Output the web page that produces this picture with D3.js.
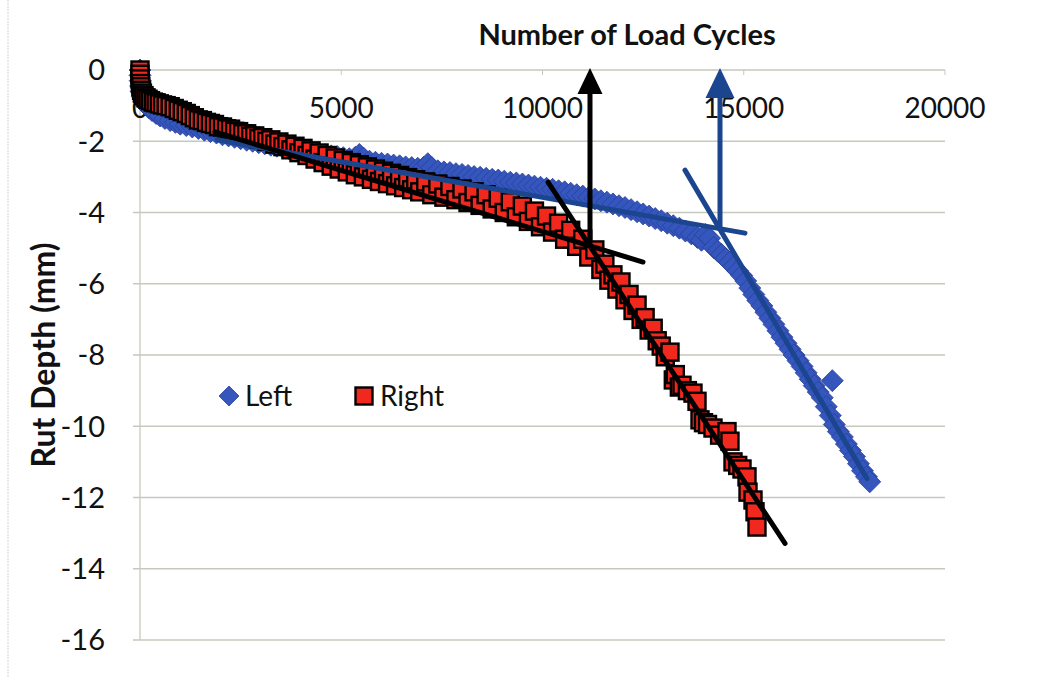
<!DOCTYPE html>
<html>
<head>
<meta charset="utf-8">
<script src="https://cdn.jsdelivr.net/npm/d3@7/dist/d3.min.js"></script>
<style>
    body { margin: 0; background: #fff; }
    #chart { width: 1050px; height: 677px; }
    text { font-family: Lato, "Open Sans", sans-serif; fill: #111; }
</style>
</head>
<body>
<div id="chart"></div>
<script>
// tick values
var xTicks = [0, 5000, 10000, 15000, 20000];
var yTicks = [0, -2, -4, -6, -8, -10, -12, -14, -16];

// Left wheel path: [load cycles, rut depth mm]
var leftData = [
    [0,0],[0,-0.15],[5,-0.3],[15,-0.45],[30,-0.6],[60,-0.75],[100,-0.88],[150,-0.98],[220,-1.06],[300,-1.14],
    [400,-1.22],[500,-1.29],[620,-1.36],[750,-1.42],[880,-1.47],[1000,-1.52],[1150,-1.56],[1300,-1.6],[1450,-1.64],[1600,-1.69],
    [1750,-1.73],[1900,-1.77],[2050,-1.82],[2200,-1.85],[2350,-1.89],[2500,-1.93],[2650,-1.97],[2800,-2.0],[2950,-2.04],[3100,-2.07],
    [3250,-2.11],[3400,-2.14],[3550,-2.17],[3700,-2.21],[3850,-2.24],[4000,-2.27],[4150,-2.3],[4300,-2.33],[4450,-2.35],[4600,-2.38],
    [4750,-2.41],[4900,-2.43],[5050,-2.46],[5200,-2.49],[5350,-2.45],[5450,-2.37],[5550,-2.47],[5700,-2.56],[5850,-2.59],[6000,-2.62],
    [6150,-2.64],[6300,-2.67],[6450,-2.69],[6600,-2.72],[6750,-2.74],[6900,-2.76],[7050,-2.73],[7150,-2.63],[7250,-2.74],[7400,-2.83],
    [7550,-2.86],[7700,-2.88],[7850,-2.91],[8000,-2.93],[8150,-2.96],[8300,-2.99],[8450,-3.01],[8600,-3.04],[8750,-3.07],[8900,-3.09],
    [9050,-3.12],[9200,-3.15],[9350,-3.17],[9500,-3.2],[9650,-3.23],[9800,-3.26],[9950,-3.29],[10100,-3.32],[10250,-3.35],[10400,-3.39],
    [10550,-3.42],[10700,-3.46],[10850,-3.5],[11000,-3.54],[11150,-3.58],[11300,-3.62],[11450,-3.67],[11600,-3.71],[11750,-3.76],[11900,-3.81],
    [12050,-3.86],[12200,-3.92],[12350,-3.98],[12500,-4.04],[12650,-4.1],[12800,-4.17],[12950,-4.23],[13100,-4.3],[13250,-4.37],[13400,-4.44],
    [13550,-4.52],[13700,-4.6],[13850,-4.7],[13950,-4.78],[14050,-4.62],[14150,-4.72],[14250,-4.98],[14350,-5.08],[14450,-5.18],[14550,-5.29],
    [14650,-5.4],[14750,-5.52],[14850,-5.64],[14950,-5.77],[15050,-5.92],[15150,-6.12],[15250,-6.3],[15350,-6.47],[15450,-6.62],[15550,-6.8],
    [15650,-6.97],[15750,-7.14],[15850,-7.32],[15950,-7.5],[16050,-7.67],[16150,-7.84],[16250,-8.0],[16350,-8.16],[16450,-8.32],[16550,-8.5],
    [16650,-8.68],[16750,-8.86],[16850,-9.04],[16950,-9.2],[17050,-9.45],[17200,-8.72],[17150,-9.7],[17250,-9.95],[17350,-10.15],[17450,-10.3],
    [17550,-10.5],[17650,-10.68],[17750,-10.85],[17850,-11.05],[17950,-11.25],[18050,-11.42],[18130,-11.56]
];

// Right wheel path
var rightData = [
    [0,0],[0,-0.12],[0,-0.25],[10,-0.38],[20,-0.47],[40,-0.57],[60,-0.65],[100,-0.72],[150,-0.78],[200,-0.82],
    [260,-0.86],[330,-0.9],[400,-0.92],[480,-0.95],[560,-0.98],[650,-1.0],[750,-1.03],[850,-1.08],[950,-1.13],[1050,-1.17],
    [1150,-1.22],[1250,-1.28],[1350,-1.34],[1450,-1.4],[1550,-1.42],[1650,-1.47],[1750,-1.5],[1850,-1.53],[1950,-1.59],[2050,-1.6],
    [2150,-1.65],[2250,-1.66],[2350,-1.72],[2450,-1.73],[2550,-1.79],[2650,-1.79],[2750,-1.86],[2850,-1.85],[2950,-1.93],[3050,-1.9],
    [3150,-2.0],[3250,-1.96],[3350,-2.08],[3450,-2.02],[3550,-2.15],[3650,-2.08],[3750,-2.24],[3850,-2.14],[3950,-2.32],[4050,-2.2],
    [4150,-2.4],[4250,-2.27],[4350,-2.5],[4450,-2.33],[4550,-2.6],[4650,-2.4],[4750,-2.7],[4850,-2.47],[4950,-2.78],[5050,-2.54],
    [5150,-2.86],[5250,-2.6],[5350,-2.94],[5450,-2.66],[5550,-3.0],[5650,-2.72],[5750,-3.07],[5850,-2.78],[5950,-3.13],[6050,-2.84],
    [6150,-3.19],[6250,-2.9],[6350,-3.25],[6450,-2.96],[6550,-3.3],[6650,-3.02],[6750,-3.36],[6850,-3.08],[6950,-3.42],[7100,-3.14],
    [7250,-3.5],[7400,-3.2],[7550,-3.57],[7700,-3.27],[7850,-3.64],[8000,-3.34],[8150,-3.72],[8300,-3.42],[8450,-3.8],[8600,-3.5],
    [8750,-3.9],[8900,-3.6],[9050,-4.0],[9200,-3.7],[9350,-4.12],[9500,-3.82],[9650,-4.25],[9800,-3.96],[9950,-4.4],[10100,-4.1],
    [10250,-4.55],[10400,-4.3],[10550,-4.75],[10700,-4.5],[10850,-4.95],[11000,-4.75],[11150,-5.25],[11300,-5.05],[11450,-5.6],[11550,-5.45],
    [11650,-5.9],[11750,-5.75],[11850,-6.15],[11950,-5.95],[12050,-6.45],[12150,-6.3],[12250,-6.75],[12350,-6.6],[12450,-7.0],[12550,-6.95],
    [12650,-7.3],[12750,-7.25],[12850,-7.6],[12950,-7.75],[13050,-8.05],[13168,-7.92],[13250,-8.7],[13300,-8.55],[13400,-8.9],[13466,-8.85],
    [13600,-9.0],[13739,-9.07],[13839,-9.3],[13913,-9.82],[14000,-9.9],[14100,-9.95],[14236,-10.05],[14400,-10.25],[14584,-10.15],[14658,-10.42],
    [14733,-11.0],[14850,-11.1],[14957,-11.2],[15081,-11.42],[15106,-11.85],[15230,-12.07],[15280,-12.4],[15329,-12.83]
];

// straight-line fits, start/end points
var leftFit1 = [[1913,-1.96],[15031,-4.58]];
var leftFit2 = [[13540,-2.81],[18062,-11.47]];
var rightFit1 = [[1863,-1.74],[12497,-5.39]];
var rightFit2 = [[10137,-3.15],[16025,-13.29]];

// arrows from the fit intersections up to the cycle axis
var leftArrow = [[14410,-4.47],[14410,0]];
var rightArrow = [[11180,-4.91],[11180,0]];

var svg;
var x;
var y;
var blue = "#3556bd";
var darkBlue = "#1c4590";

function drawCharts() {
    svg = d3.select("#chart").append("svg")
        .attr("width", 1050)
        .attr("height", 677);

    x = d3.scaleLinear().domain([0, 20000]).range([140, 945]);
    y = d3.scaleLinear().domain([-16, 0]).range([640, 70]);

    // faint page edge from the scan
    svg.append("line")
        .attr("x1", 8).attr("x2", 8).attr("y1", 0).attr("y2", 677)
        .attr("stroke", "#d4d4d4").attr("stroke-width", 1)
        .attr("stroke-dasharray", "2,1");

    // gridlines
    svg.append("g").selectAll("line")
        .data(yTicks)
        .join("line")
        .attr("x1", x(0) - 7)
        .attr("x2", x(20000))
        .attr("y1", d => y(d))
        .attr("y2", d => y(d))
        .attr("stroke", "#c6c9be")
        .attr("stroke-width", 1.3);

    // y axis line
    svg.append("line")
        .attr("x1", x(0)).attr("x2", x(0))
        .attr("y1", y(0)).attr("y2", y(-16))
        .attr("stroke", "#c6c9be").attr("stroke-width", 1.3);

    // x ticks
    svg.append("g").selectAll("line")
        .data(xTicks)
        .join("line")
        .attr("x1", d => x(d)).attr("x2", d => x(d))
        .attr("y1", y(0)).attr("y2", y(0) + 5)
        .attr("stroke", "#c6c9be");

    svg.append("g").selectAll("text")
        .data(yTicks)
        .join("text")
        .attr("x", 105)
        .attr("y", d => y(d))
        .attr("dy", "0.36em")
        .attr("text-anchor", "end")
        .attr("font-size", 29)
        .text(d => d);

    svg.append("g").selectAll("text")
        .data(xTicks)
        .join("text")
        .attr("x", d => x(d))
        .attr("y", 118)
        .attr("text-anchor", "middle")
        .attr("font-size", 28)
        .text(d => d);

    svg.append("text")
        .attr("x", 627).attr("y", 45)
        .attr("text-anchor", "middle")
        .attr("font-size", 29)
        .attr("font-weight", "bold")
        .text("Number of Load Cycles");

    svg.append("text")
        .attr("transform", "translate(55,355) rotate(-90)")
        .attr("text-anchor", "middle")
        .attr("font-size", 32)
        .attr("font-weight", "bold")
        .text("Rut Depth (mm)");

    drawSeries();
    drawFits();
    drawLegend();
}

function diamond(r) {
    return `M0,${-r}L${r},0L0,${r}L${-r},0Z`;
}

function drawSeries() {
    svg.append("g").selectAll("path")
        .data(leftData)
        .join("path")
        .attr("transform", d => `translate(${x(d[0])},${y(d[1])})`)
        .attr("d", diamond(11))
        .attr("fill", blue)
        .attr("stroke", "#2a3f9c")
        .attr("stroke-width", 0.8);

    svg.append("g").selectAll("rect")
        .data(rightData)
        .join("rect")
        .attr("x", d => x(d[0]) - 8.5)
        .attr("y", d => y(d[1]) - 8.5)
        .attr("width", 17)
        .attr("height", 17)
        .attr("fill", "#f0281e")
        .attr("stroke", "#000")
        .attr("stroke-width", 2.4);
}

function drawFits() {
    const fits = [
        { pts: leftFit1, color: darkBlue },
        { pts: leftFit2, color: darkBlue },
        { pts: rightFit1, color: "#000" },
        { pts: rightFit2, color: "#000" }
    ];
    fits.forEach(f => {
        svg.append("line")
            .attr("x1", x(f.pts[0][0])).attr("y1", y(f.pts[0][1]))
            .attr("x2", x(f.pts[1][0])).attr("y2", y(f.pts[1][1]))
            .attr("stroke", f.color)
            .attr("stroke-width", 5)
            .attr("stroke-linecap", "round");
    });

    drawArrow(leftArrow, darkBlue, 29, 30);
    drawArrow(rightArrow, "#000", 25, 26);
}

function drawArrow(pts, color, w, h) {
    const x0 = x(pts[0][0]);
    const tipY = y(pts[1][1]) - 2;
    svg.append("line")
        .attr("x1", x0).attr("y1", y(pts[0][1]))
        .attr("x2", x0).attr("y2", tipY + h - 2)
        .attr("stroke", color)
        .attr("stroke-width", 5);
    svg.append("path")
        .attr("d", `M${x0},${tipY}L${x0 - w / 2},${tipY + h}L${x0 + w / 2},${tipY + h}Z`)
        .attr("fill", color);
}

function drawLegend() {
    const lg = svg.append("g");
    lg.append("path")
        .attr("transform", "translate(229,396)")
        .attr("d", diamond(10))
        .attr("fill", blue)
        .attr("stroke", "#2a3f9c")
        .attr("stroke-width", 0.8);
    lg.append("text")
        .attr("x", 245).attr("y", 406)
        .attr("font-size", 28)
        .text("Left");
    lg.append("rect")
        .attr("x", 355.5).attr("y", 387.5)
        .attr("width", 17).attr("height", 17)
        .attr("fill", "#f0281e")
        .attr("stroke", "#000")
        .attr("stroke-width", 2.4);
    lg.append("text")
        .attr("x", 380).attr("y", 406)
        .attr("font-size", 28)
        .text("Right");
}

document.addEventListener("DOMContentLoaded", () => {
    drawCharts();
});
</script>
</body>
</html>
